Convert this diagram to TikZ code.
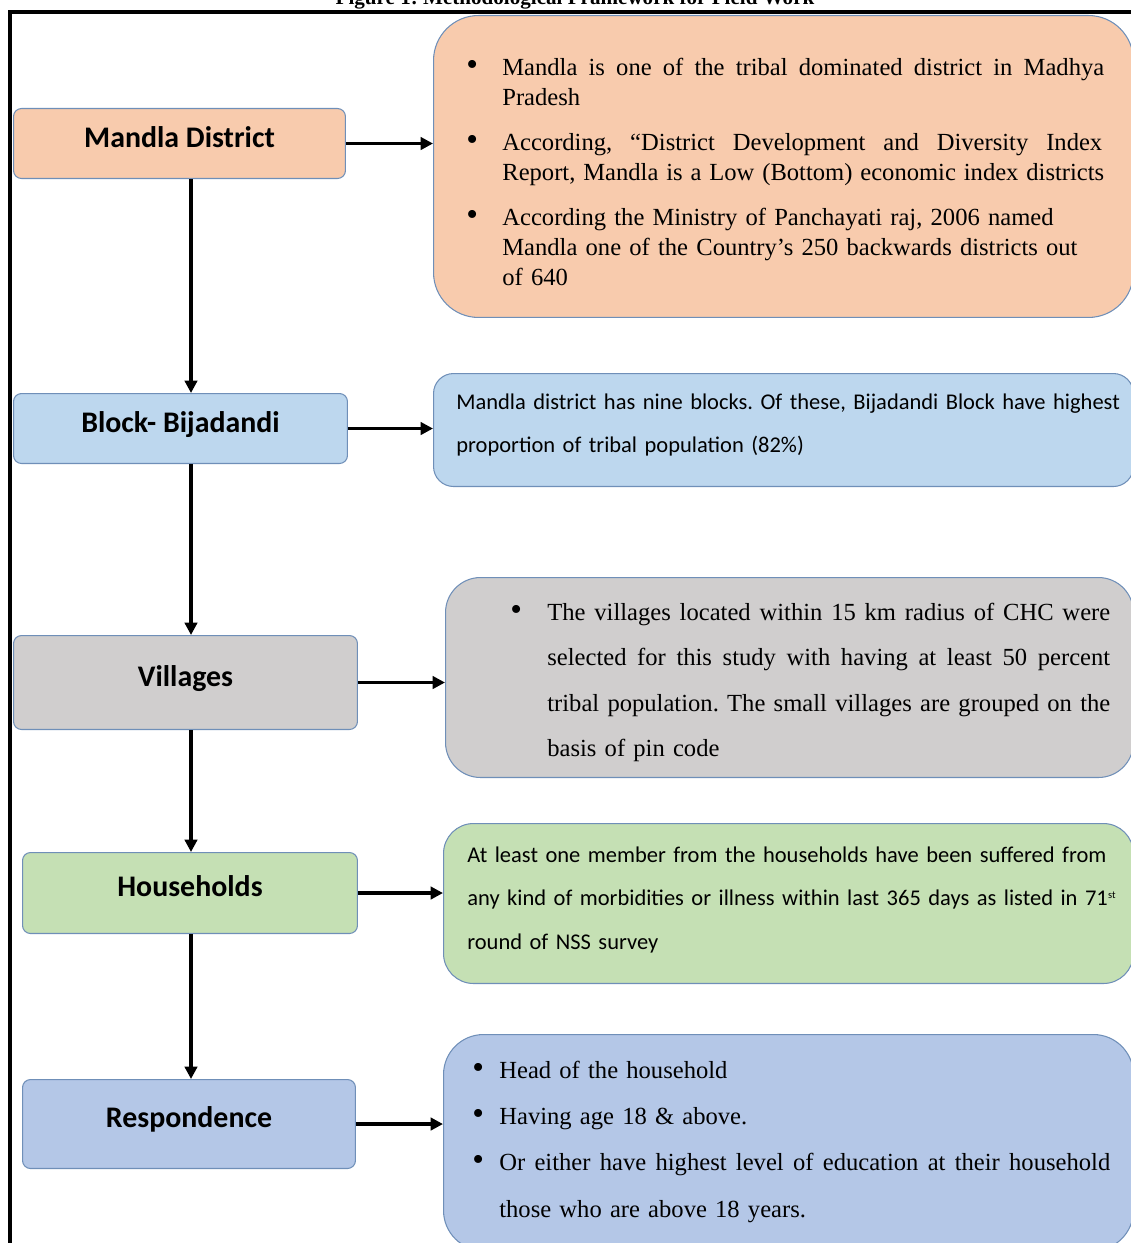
\documentclass[tikz,border=0pt]{standalone}
\usepackage{fontspec}
\setmainfont{Liberation Serif}
\newfontfamily\calibri{Carlito}
\usepackage{xcolor}
\usetikzlibrary{arrows.meta}
\frenchspacing

\definecolor{peach}{HTML}{F8CBAD}
\definecolor{skyblue}{HTML}{BDD7EE}
\definecolor{boxgray}{HTML}{D0CECE}
\definecolor{sage}{HTML}{C5E0B4}
\definecolor{periwinkle}{HTML}{B4C7E7}
\definecolor{edge}{HTML}{6F8FB8}

\newcommand{\fullline}[2]{\hbox to #1{\spaceskip=0.25em plus 1fil\relax #2}}
\newcommand{\dotmark}[1]{\makebox[#1][l]{\fontsize{19}{10}\selectfont\textbullet}}

\begin{document}
\begin{tikzpicture}[x=0.02cm, y=-0.02cm,
    lvl/.style={rectangle, draw=edge, line width=0.6pt, rounded corners=0.16cm, anchor=north west,
        font=\calibri\bfseries\fontsize{17}{20}\selectfont, text depth=0.27cm},
    info/.style={rectangle, draw=edge, line width=0.6pt, anchor=north west, inner sep=0pt},
    txt/.style={anchor=base west, inner sep=0pt},
    >={Triangle[length=7pt,width=7pt]},
    link/.style={->, line width=2pt}]
    \useasboundingbox (0,0) rectangle (1131,1243);
    \clip (0,0) rectangle (1131,1243);

    \node[anchor=base, font=\bfseries\fontsize{12}{14}\selectfont] (title) at (575,5) {Figure 1: Methodological Framework for Field Work};
    \draw[line width=2.3pt] (10,12) rectangle (1170,1290);

    % levels of sampling
    \node[lvl, fill=peach, minimum width=6.64cm, minimum height=1.4cm] (mandla) at (13,108) {Mandla District};
    \node[lvl, fill=skyblue, minimum width=6.68cm, minimum height=1.4cm] (block) at (13,393) {Block- Bijadandi};
    \node[lvl, fill=boxgray, minimum width=6.88cm, minimum height=1.88cm] (villages) at (13,635) {Villages};
    \node[lvl, fill=sage, minimum width=6.7cm, minimum height=1.62cm] (households) at (22,852) {Households};
    \node[lvl, fill=periwinkle, minimum width=6.66cm, minimum height=1.78cm] (respondence) at (22,1079) {Respondence};

    % description boxes
    \node[info, fill=peach, rounded corners=0.9cm, minimum width=14cm, minimum height=6.04cm] (info1) at (433,15) {};
    \node[info, fill=skyblue, rounded corners=0.4cm, minimum width=14cm, minimum height=2.26cm] (info2) at (433,373) {};
    \node[info, fill=boxgray, rounded corners=0.7cm, minimum width=13.76cm, minimum height=4cm] (info3) at (445,577) {};
    \node[info, fill=sage, rounded corners=0.6cm, minimum width=13.8cm, minimum height=3.2cm] (info4) at (443,823) {};
    \node[info, fill=periwinkle, rounded corners=0.8cm, minimum width=13.8cm, minimum height=4.32cm] (info5) at (443,1034) {};

    \node[txt, text width=12.9cm, font=\fontsize{14}{17}\selectfont] (fact1) at (466,76) {%
        \dotmark{0.72cm}\fullline{12.04cm}{Mandla is one of the tribal dominated district in Madhya}\\
        \hspace*{0.72cm}Pradesh\\[0.3cm]
        \dotmark{0.72cm}\fullline{12cm}{According, “District Development and Diversity Index}\\
        \hspace*{0.72cm}\fullline{12.04cm}{Report, Mandla is a Low (Bottom) economic index districts}\\[0.3cm]
        \dotmark{0.72cm}According the Ministry of Panchayati raj, 2006 named\\
        \hspace*{0.72cm}Mandla one of the Country’s 250 backwards districts out\\
        \hspace*{0.72cm}of 640};
    \node[txt, text width=13.6cm, font=\calibri\fontsize{12.8}{25}\selectfont] (fact2) at (456,409) {%
        Mandla district has nine blocks. Of these, Bijadandi Block have highest\\
        proportion of tribal population (82\%)};
    \node[txt, text width=12.2cm, font=\fontsize{14}{25.9}\selectfont] (fact3) at (510,620) {%
        \dotmark{0.74cm}\fullline{11.26cm}{The villages located within 15 km radius of CHC were}\\
        \hspace*{0.74cm}\fullline{11.26cm}{selected for this study with having at least 50 percent}\\
        \hspace*{0.74cm}\fullline{11.26cm}{tribal population. The small villages are grouped on the}\\
        \hspace*{0.74cm}basis of pin code};
    \node[txt, text width=13.4cm, font=\calibri\fontsize{12.8}{25}\selectfont] (fact4) at (467,862) {%
        At least one member from the households have been suffered from\\
        any kind of morbidities or illness within last 365 days as listed in 71\textsuperscript{\fontsize{6}{6}\selectfont st}\\
        round of NSS survey};
    \node[txt, text width=12.9cm, font=\fontsize{14}{26.4}\selectfont] (fact5) at (472,1078) {%
        \dotmark{0.54cm}Head of the household\\
        \dotmark{0.54cm}Having age 18 \& above.\\
        \dotmark{0.54cm}\fullline{12.22cm}{Or either have highest level of education at their household}\\
        \hspace*{0.54cm}those who are above 18 years.};

    % connectors
    \coordinate (axis) at (191,0);
    \draw[link] (mandla.south -| axis) -- (block.north -| axis);
    \draw[link] (block.south -| axis) -- (villages.north -| axis);
    \draw[link] (villages.south -| axis) -- (households.north -| axis);
    \draw[link] (households.south -| axis) -- (respondence.north -| axis);

    \draw[link] (mandla.east) -- (mandla.east -| info1.west);
    \draw[link] (block.east) -- (block.east -| info2.west);
    \draw[link] (villages.east) -- (villages.east -| info3.west);
    \draw[link] (households.east) -- (households.east -| info4.west);
    \draw[link] (respondence.east) -- (respondence.east -| info5.west);
\end{tikzpicture}
\end{document}
